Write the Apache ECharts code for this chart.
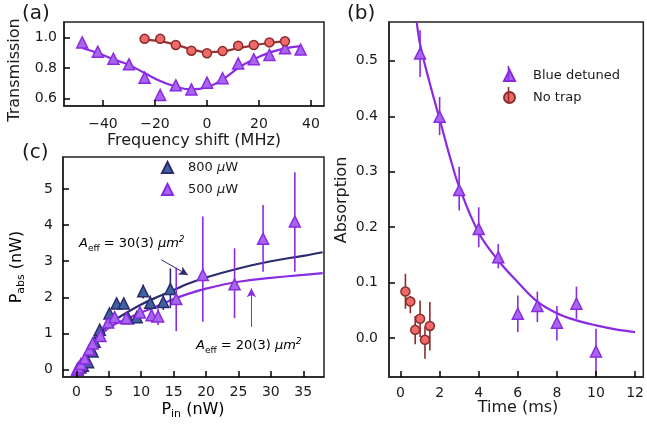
<!DOCTYPE html>
<html><head><meta charset="utf-8">
<script src="https://cdn.jsdelivr.net/npm/echarts@6/dist/echarts.min.js"></script>
<style>html,body{margin:0;padding:0;background:#fff}#c{width:647px;height:430px}</style>
</head><body><div id="c"></div>
<script>
// ---------- Panel (a): transmission vs frequency shift ----------
const aPurpleX = [-48,-42,-36,-30,-24,-18,-12,-6,0,6,12,18,24,30,36];
const aPurpleY = [0.967,0.906,0.86,0.824,0.737,0.624,0.687,0.66,0.704,0.733,0.83,0.857,0.885,0.928,0.92];
const aPurpleLo = [0.94,0.885,0.835,0.80,0.712,0.60,0.665,0.638,0.68,0.71,0.80,0.832,0.862,0.905,0.90];
const aPurpleHi = [0.99,0.93,0.885,0.85,0.762,0.648,0.71,0.682,0.728,0.756,0.86,0.882,0.908,0.95,0.94];
const aRedX = [-24,-18,-12,-6,0,6,12,18,24,30];
const aRedY = [0.99,0.99,0.95,0.913,0.896,0.91,0.945,0.95,0.967,0.974];
const aPurpleFitX = [-48,-42,-36,-30,-24,-18,-12,-6,0,6,12,18,24,30,36];
const aPurpleFitY = [0.93,0.897,0.857,0.82,0.767,0.715,0.678,0.66,0.674,0.725,0.8,0.857,0.9,0.928,0.943];
const aRedFitX = [-24,-18,-12,-6,0,6,12,18,24,30];
const aRedFitY = [0.985,0.975,0.952,0.922,0.903,0.908,0.93,0.948,0.963,0.975];
const aXTicks = [-40,-20,0,20,40];
const aYTicks = [0.6,0.8,1.0];

// ---------- Panel (c): absorbed power vs input power ----------
const cNavyX = [0.2,0.6,1.0,1.8,2.5,2.8,3.6,5.1,6.2,7.3,8.0,9.3,10.3,11.4,13.4,14.5];
const cNavyY = [0.0,0.05,0.1,0.2,0.5,0.77,1.1,1.55,1.83,1.83,1.42,1.45,2.17,1.85,1.87,2.23];
const cNavyLo = [-0.05,0.0,0.05,0.12,0.42,0.68,1.0,1.45,1.72,1.72,1.32,1.35,1.97,1.65,1.65,1.7];
const cNavyHi = [0.05,0.1,0.15,0.28,0.58,0.86,1.2,1.65,1.94,1.94,1.52,1.55,2.35,2.05,2.07,2.8];
const cPurpleX = [0.1,0.3,0.7,1.3,2.0,2.5,3.7,4.9,5.9,7.7,9.8,11.6,12.6,15.4,19.5,24.4,28.8,33.7];
const cPurpleY = [0.0,0.05,0.15,0.3,0.55,0.72,0.93,1.3,1.45,1.42,1.58,1.5,1.47,1.95,2.62,2.36,3.62,4.1];
const cPurpleLo = [-0.05,0.0,0.1,0.24,0.48,0.64,0.85,1.2,1.35,1.3,1.45,1.3,1.23,1.06,1.32,1.42,2.71,2.71];
const cPurpleHi = [0.05,0.1,0.2,0.36,0.62,0.8,1.01,1.4,1.55,1.55,1.7,1.7,1.68,2.82,4.24,3.36,4.56,5.47];
const cNavyFitX = [0,1,2,3,4,5,6,8,10,12,15,17,20,25,30,35,38];
const cNavyFitY = [0,0.3,0.6,0.87,1.08,1.25,1.38,1.6,1.8,1.97,2.2,2.36,2.55,2.8,3.0,3.15,3.25];
const cPurpleFitX = [0,1,2,3,4,5,6,8,10,12,15,17,20,25,30,35,38];
const cPurpleFitY = [0,0.3,0.58,0.82,1.0,1.15,1.26,1.42,1.58,1.72,1.95,2.08,2.24,2.43,2.54,2.62,2.67];
const cXTicks = [0,5,10,15,20,25,30,35];
const cYTicks = [0,1,2,3,4,5];
const cNavyArrow = [[13.1,3.04],[17.2,2.62]];
const cPurpleArrow = [[27.0,1.18],[27.0,2.25]];

// ---------- Panel (b): absorption vs time ----------
const bBlueX = [1,2,3,4,5,6,7,8,9,10];
const bBlueY = [0.513,0.399,0.267,0.197,0.146,0.044,0.058,0.028,0.062,-0.024];
const bBlueLo = [0.471,0.366,0.23,0.164,0.126,0.011,0.029,-0.004,0.035,-0.067];
const bBlueHi = [0.555,0.435,0.309,0.236,0.17,0.077,0.084,0.058,0.093,0.017];
const bRedX = [0.25,0.5,0.75,1.0,1.25,1.5];
const bRedY = [0.084,0.066,0.015,0.035,-0.003,0.022];
const bRedLo = [0.053,0.045,-0.011,0.002,-0.037,-0.022];
const bRedHi = [0.116,0.076,0.04,0.068,0.021,0.065];
const bFitX = [0.83,1,1.5,2,2.5,3,4,5,6,7,8,9,10,11,12];
const bFitY = [0.57,0.53,0.459,0.395,0.33,0.273,0.19,0.14,0.101,0.066,0.045,0.032,0.023,0.016,0.011];
const bXTicks = [0,2,4,6,8,10,12];
const bYTicks = [0.0,0.1,0.2,0.3,0.4,0.5];

// ---------- styles ----------
const PURPLE = '#8a2be2', PURPLE_FACE = '#a766ee';
const NAVY = '#2b2b6e', NAVY_FACE = '#3d63a0';
const BROWN = '#8c2d2d', RED_FACE = '#f06a6a', RED_LINE = '#9a3232';
const INK = '#1a1a1a';
const FONT = 'DejaVu Sans';

const zip2 = (xs, ys) => xs.map((x, i) => [x, ys[i]]);
const zip3 = (xs, lo, hi) => xs.map((x, i) => [x, lo[i], hi[i]]);

function errSeries(name, xi, yi, data, color, lw) {
  return {
    type: 'custom', name: name, xAxisIndex: xi, yAxisIndex: yi, clip: true, z: 3, silent: true,
    encode: { x: 0, y: [1, 2] },
    data: data,
    renderItem: function (params, api) {
      const x = api.value(0), lo = api.value(1), hi = api.value(2);
      const p1 = api.coord([x, lo]), p2 = api.coord([x, hi]);
      return { type: 'line', shape: { x1: p1[0], y1: p1[1], x2: p2[0], y2: p2[1] },
        style: { stroke: color, lineWidth: lw || 1.6 } };
    }
  };
}

function gridBox(o) {
  return Object.assign({ show: true, borderColor: '#222', borderWidth: 1.5 }, o);
}
function valAxis(gi, min, max, ticks, fmt, margin) {
  return {
    type: 'value', gridIndex: gi, min: min, max: max,
    splitLine: { show: false },
    axisLine: { show: true, onZero: false, lineStyle: { color: '#222', width: 1.5 } },
    axisTick: { show: true, inside: true, length: 6, lineStyle: { color: '#000', width: 1.5 }, customValues: ticks },
    axisLabel: { show: true, customValues: ticks, formatter: fmt, margin: margin, color: INK, fontFamily: FONT, fontSize: 14 },
    z: 10
  };
}
const minusFmt = v => (v < 0 ? '\u2212' + Math.abs(v) : String(v));

const richBase = {
  n: { fontFamily: FONT, fontSize: 16, color: INK, lineHeight: 20 },
  sub: { fontFamily: FONT, fontSize: 11, color: INK, lineHeight: 10, verticalAlign: 'bottom' }
};
function annRich(color) {
  return {
    i: { fontFamily: FONT, fontSize: 13, fontStyle: 'italic', color: color, lineHeight: 18 },
    n: { fontFamily: FONT, fontSize: 13, color: color, lineHeight: 18 },
    sub: { fontFamily: FONT, fontSize: 9, color: color, lineHeight: 9, verticalAlign: 'bottom' },
    sup: { fontFamily: FONT, fontSize: 9, fontStyle: 'italic', color: color, lineHeight: 9, verticalAlign: 'top' }
  };
}

const option = {
  backgroundColor: '#ffffff',
  animation: false,
  grid: [
    gridBox({ left: 64, top: 22, width: 260, height: 84 }),   // (a)
    gridBox({ left: 63, top: 157, width: 261, height: 220 }), // (c)
    gridBox({ left: 389, top: 22, width: 257, height: 355 })  // (b)
  ],
  xAxis: [
    valAxis(0, -55, 45, aXTicks, minusFmt, 11),
    valAxis(1, -2.07, 38.2, cXTicks, v => String(v), 8),
    valAxis(2, -0.59, 12.42, bXTicks, v => String(v), 9)
  ],
  yAxis: [
    valAxis(0, 0.552, 1.1, aYTicks, v => v.toFixed(1), 7),
    valAxis(1, -0.21, 5.89, cYTicks, v => String(v), 10),
    valAxis(2, -0.07, 0.57, bYTicks, v => v.toFixed(1), 11)
  ],
  legend: [
    {
      data: [{ name: '800 \u03bcW' }, { name: '500 \u03bcW' }],
      left: 161, top: 161, padding: 0, orient: 'vertical', itemGap: 9, itemWidth: 11, itemHeight: 11,
      textStyle: { fontFamily: FONT, fontSize: 13, color: INK, padding: [0, 0, 0, 10],
        rich: { i: { fontFamily: FONT, fontSize: 13, fontStyle: 'italic', color: INK },
                n: { fontFamily: FONT, fontSize: 13, color: INK } } },
      formatter: function (name) { return '{n|' + name.split(' ')[0] + ' }{i|\u03bc}{n|W}'; },
      selectedMode: false
    },
    {
      data: [{ name: 'Blue detuned' }, { name: 'No trap' }],
      left: 503, top: 69, padding: 0, orient: 'vertical', itemGap: 9, itemWidth: 11, itemHeight: 11,
      textStyle: { fontFamily: FONT, fontSize: 13, color: INK, padding: [0, 0, 0, 13] },
      selectedMode: false
    }
  ],
  graphic: [
    { type: 'text', left: 22, top: 4, style: { text: '(a)', font: '20px "DejaVu Sans"', fill: INK } },
    { type: 'text', left: 347, top: 4, style: { text: '(b)', font: '20px "DejaVu Sans"', fill: INK } },
    { type: 'text', left: 22, top: 143, style: { text: '(c)', font: '20px "DejaVu Sans"', fill: INK } },
    { type: 'text', x: 15, y: 70, rotation: Math.PI / 2,
      style: { text: 'Transmission', font: '16px "DejaVu Sans"', fill: INK, align: 'center', verticalAlign: 'middle' } },
    { type: 'text', x: 194, y: 141,
      style: { text: 'Frequency shift (MHz)', font: '16px "DejaVu Sans"', fill: INK, align: 'center', verticalAlign: 'middle' } },
    { type: 'text', x: 17, y: 267, rotation: Math.PI / 2,
      style: { text: '{n|P}{sub|abs}{n| (nW)}', rich: richBase, align: 'center', verticalAlign: 'middle' } },
    { type: 'text', x: 193, y: 410,
      style: { text: '{n|P}{sub|in}{n| (nW)}', rich: richBase, align: 'center', verticalAlign: 'middle' } },
    { type: 'text', x: 342, y: 200, rotation: Math.PI / 2,
      style: { text: 'Absorption', font: '16px "DejaVu Sans"', fill: INK, align: 'center', verticalAlign: 'middle' } },
    { type: 'text', x: 518, y: 408,
      style: { text: 'Time (ms)', font: '16px "DejaVu Sans"', fill: INK, align: 'center', verticalAlign: 'middle' } },
    { type: 'text', x: 79, y: 244,
      style: { text: '{i|A}{sub|eff}{n| = 30(3) }{i|\u03bcm}{sup|2}', rich: annRich(NAVY), align: 'left', verticalAlign: 'middle' } },
    { type: 'text', x: 196, y: 346,
      style: { text: '{i|A}{sub|eff}{n| = 20(3) }{i|\u03bcm}{sup|2}', rich: annRich(PURPLE), align: 'left', verticalAlign: 'middle' } },
    // error-bar strokes through legend markers of panel (b)
    { type: 'line', shape: { x1: 508.5, y1: 66, x2: 508.5, y2: 82 }, style: { stroke: PURPLE, lineWidth: 1.6 }, z: 200 },
    { type: 'line', shape: { x1: 508.5, y1: 87, x2: 508.5, y2: 103 }, style: { stroke: BROWN, lineWidth: 1.6 }, z: 200 }
  ],
  series: [
    // ----- (a)
    { type: 'line', xAxisIndex: 0, yAxisIndex: 0, data: zip2(aPurpleFitX, aPurpleFitY), smooth: 0.4, symbol: 'none',
      lineStyle: { color: PURPLE, width: 2.2 }, z: 2, silent: true },
    { type: 'line', xAxisIndex: 0, yAxisIndex: 0, data: zip2(aRedFitX, aRedFitY), smooth: 0.4, symbol: 'none',
      lineStyle: { color: RED_LINE, width: 2.2 }, z: 2, silent: true },
    errSeries('aErr', 0, 0, zip3(aPurpleX, aPurpleLo, aPurpleHi), PURPLE, 1.4),
    { type: 'scatter', name: 'aPurple', xAxisIndex: 0, yAxisIndex: 0, data: zip2(aPurpleX, aPurpleY), symbol: 'triangle', symbolSize: 11,
      itemStyle: { color: PURPLE_FACE, borderColor: PURPLE, borderWidth: 1.5, opacity: 1 }, z: 5 },
    { type: 'scatter', name: 'aRed', xAxisIndex: 0, yAxisIndex: 0, data: zip2(aRedX, aRedY), symbol: 'circle', symbolSize: 9,
      itemStyle: { color: RED_FACE, borderColor: BROWN, borderWidth: 1.5, opacity: 1 }, z: 5 },
    // ----- (c)
    { type: 'line', xAxisIndex: 1, yAxisIndex: 1, data: zip2(cNavyFitX, cNavyFitY), smooth: 0.4, symbol: 'none',
      lineStyle: { color: NAVY, width: 2.2 }, z: 2, silent: true,
      markLine: { silent: true, symbol: ['none', 'arrow'], symbolSize: [7, 9], label: { show: false },
        lineStyle: { color: NAVY, width: 1, type: 'solid' },
        data: [[{ coord: cNavyArrow[0] }, { coord: cNavyArrow[1] }]] } },
    { type: 'line', xAxisIndex: 1, yAxisIndex: 1, data: zip2(cPurpleFitX, cPurpleFitY), smooth: 0.4, symbol: 'none',
      lineStyle: { color: PURPLE, width: 2.2 }, z: 2, silent: true,
      markLine: { silent: true, symbol: ['none', 'arrow'], symbolSize: [7, 9], label: { show: false },
        lineStyle: { color: PURPLE, width: 1, type: 'solid' },
        data: [[{ coord: cPurpleArrow[0] }, { coord: cPurpleArrow[1] }]] } },
    errSeries('cNavyErr', 1, 1, zip3(cNavyX, cNavyLo, cNavyHi), NAVY, 1.6),
    errSeries('cPurpleErr', 1, 1, zip3(cPurpleX, cPurpleLo, cPurpleHi), PURPLE, 1.6),
    { type: 'scatter', name: '800 \u03bcW', xAxisIndex: 1, yAxisIndex: 1, data: zip2(cNavyX, cNavyY), symbol: 'triangle', symbolSize: 11,
      itemStyle: { color: NAVY_FACE, borderColor: NAVY, borderWidth: 1.5, opacity: 1 }, z: 5 },
    { type: 'scatter', name: '500 \u03bcW', xAxisIndex: 1, yAxisIndex: 1, data: zip2(cPurpleX, cPurpleY), symbol: 'triangle', symbolSize: 11,
      itemStyle: { color: PURPLE_FACE, borderColor: PURPLE, borderWidth: 1.5, opacity: 1 }, z: 6 },
    // ----- (b)
    { type: 'line', xAxisIndex: 2, yAxisIndex: 2, data: zip2(bFitX, bFitY), smooth: 0.4, symbol: 'none',
      lineStyle: { color: PURPLE, width: 2.2 }, z: 2, silent: true },
    errSeries('bBlueErr', 2, 2, zip3(bBlueX, bBlueLo, bBlueHi), PURPLE, 1.6),
    errSeries('bRedErr', 2, 2, zip3(bRedX, bRedLo, bRedHi), BROWN, 1.6),
    { type: 'scatter', name: 'Blue detuned', xAxisIndex: 2, yAxisIndex: 2, data: zip2(bBlueX, bBlueY), symbol: 'triangle', symbolSize: 11,
      itemStyle: { color: PURPLE_FACE, borderColor: PURPLE, borderWidth: 1.5, opacity: 1 }, z: 5 },
    { type: 'scatter', name: 'No trap', xAxisIndex: 2, yAxisIndex: 2, data: zip2(bRedX, bRedY), symbol: 'circle', symbolSize: 9,
      itemStyle: { color: RED_FACE, borderColor: BROWN, borderWidth: 1.5, opacity: 1 }, z: 5 }
  ]
};

const chart = echarts.init(document.getElementById('c'), null, { renderer: 'canvas' });
chart.setOption(option);
</script>
</body></html>
